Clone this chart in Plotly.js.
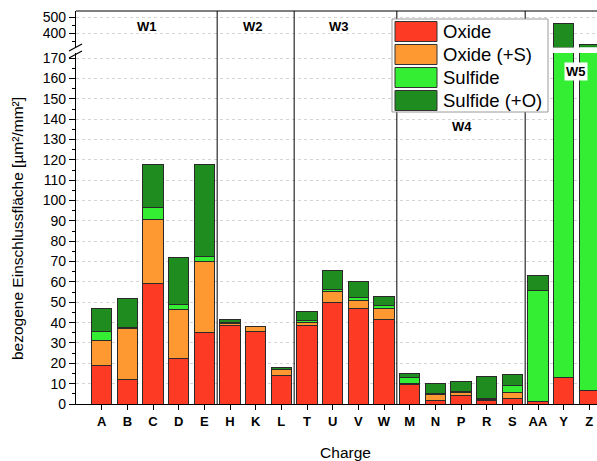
<!DOCTYPE html>
<html>
<head>
<meta charset="utf-8">
<script src="https://cdn.plot.ly/plotly-3.0.1.min.js"></script>
<style>
  html, body { margin: 0; padding: 0; overflow: hidden; background: #fff; }
  #chart { width: 620px; height: 461px; }
</style>
</head>
<body>
<div id="chart"></div>
<script>
// Inclusion area per charge, stacked by inclusion type
const charges = ['A','B','C','D','E','H','K','L','T','U','V','W','M','N','P','R','S','AA','Y','Z'];
const seriesNames = ['Oxide', 'Oxide (+S)', 'Sulfide', 'Sulfide (+O)'];
const oxide      = [18.8, 11.8, 59.1, 22.3, 35.0, 38.5, 35.5, 13.8, 38.8, 49.8, 47.0, 41.3, 9.5, 1.6, 4.1, 1.6, 2.6, 1.0, 12.9, 6.7];
const oxideS     = [12.2, 25.4, 31.6, 24.0, 34.9, 1.0, 2.6, 3.1, 1.2, 5.5, 4.1, 5.7, 0.8, 3.0, 1.6, 0.5, 3.1, 0.0, 0.0, 0.0];
const sulfide    = [4.4, 0.4, 5.9, 2.8, 2.8, 0.5, 0.0, 0.2, 0.9, 1.0, 1.3, 1.2, 2.5, 0.6, 0.5, 0.4, 3.5, 54.8, 300.0, 300.0];
const sulfideO   = [11.6, 14.1, 21.0, 22.8, 44.9, 1.3, 0.2, 0.6, 4.5, 9.2, 8.0, 4.5, 2.1, 5.1, 5.0, 10.8, 5.4, 7.4, 151.1, 26.8];
const seriesColors = ['#fd3a24', '#fe9932', '#33ee33', '#1e8c1e'];

// Groups of charges (works W1..W5)
const groupNames  = ['W1', 'W2', 'W3', 'W4', 'W5'];
const groupBounds = [4.5, 7.5, 11.5, 16.5];

const seriesValues = [oxide, oxideS, sulfide, sulfideO];
const traces = [];
['y', 'y2'].forEach(function (ax) {
  seriesValues.forEach(function (vals, i) {
    traces.push({
      type: 'bar', x: charges, y: vals, name: seriesNames[i],
      xaxis: 'x', yaxis: ax, showlegend: false, width: 0.8,
      marker: { color: seriesColors[i], line: { color: '#2a2a2a', width: 1 } },
      hoverinfo: 'x+y+name'
    });
  });
});

// plot area in pixels (used to place decorations in paper units)
const W = 620, H = 461, mL = 76, mR = 5, mT = 11, mB = 57;
const pw = W - mL - mR, ph = H - mT - mB;
const px = function (x) { return (x - mL) / pw; };
const py = function (y) { return (H - mB - y) / ph; };

const shapes = [];
// group separators over the full height
groupBounds.forEach(function (b) {
  shapes.push({ type: 'line', xref: 'x', yref: 'paper', x0: b, x1: b, y0: 0, y1: 1,
    line: { color: '#000', width: 1 } });
});
// top frame
shapes.push({ type: 'line', xref: 'paper', yref: 'paper', x0: 0, x1: 1, y0: 1, y1: 1,
  line: { color: '#000', width: 1.2 } });
// axis break marks
shapes.push({ type: 'line', xref: 'paper', yref: 'paper', x0: px(69), x1: px(82), y0: py(51), y1: py(44),
  line: { color: '#000', width: 1.2 } });
shapes.push({ type: 'line', xref: 'paper', yref: 'paper', x0: px(69), x1: px(82), y0: py(58), y1: py(51),
  line: { color: '#000', width: 1.2 } });

// legend box with wide colour swatches
const lg = { x0: 392, x1: 548, y0: 19, y1: 112 };
shapes.push({ type: 'rect', xref: 'paper', yref: 'paper', x0: px(lg.x0), x1: px(lg.x1), y0: py(lg.y1), y1: py(lg.y0),
  fillcolor: '#fff', line: { color: '#9a9a9a', width: 1 }, layer: 'above' });
const annotations = [];
seriesNames.forEach(function (n, i) {
  const cy = 31.5 + i * 23;
  shapes.push({ type: 'rect', xref: 'paper', yref: 'paper', x0: px(395), x1: px(437), y0: py(cy + 10), y1: py(cy - 10),
    fillcolor: seriesColors[i], line: { color: '#333', width: 1 }, layer: 'above' });
  annotations.push({ xref: 'paper', yref: 'paper', x: px(441), y: py(cy), text: n, showarrow: false,
    xanchor: 'left', yanchor: 'middle', font: { size: 18.5, color: '#000', family: 'Liberation Sans, Arial, sans-serif' } });
});

// group labels
const groupLabelX = [1.76, 5.91, 9.26, 14.04, 18.48];
const groupLabelY = [26.5, 26.5, 26.5, 127, 71];
groupNames.forEach(function (g, i) {
  annotations.push({ xref: 'x', yref: 'paper', x: groupLabelX[i], y: py(groupLabelY[i]), text: '<b>' + g + '</b>',
    showarrow: false, xanchor: 'center', yanchor: 'middle',
    bgcolor: g === 'W5' ? '#fff' : 'rgba(0,0,0,0)', borderpad: 1,
    font: { size: 13, color: '#000', family: 'Liberation Sans, Arial, sans-serif' } });
});

const layout = {
  width: W, height: H,
  margin: { l: mL, r: mR, t: mT, b: mB },
  paper_bgcolor: '#fff', plot_bgcolor: '#fff',
  barmode: 'stack', bargap: 0.2,
  font: { family: 'Liberation Sans, Arial, sans-serif', color: '#000' },
  xaxis: {
    type: 'category', range: [-1, 20], showline: true, linecolor: '#000', linewidth: 1.2,
    ticks: 'outside', ticklen: 5, tickcolor: '#000', showgrid: false, zeroline: false,
    tickfont: { size: 13, family: 'Liberation Sans, Arial, sans-serif', weight: 'bold' },
    tickprefix: '<b>', ticksuffix: '</b>',
    title: { text: 'Charge', font: { size: 15.5 }, standoff: 23 }
  },
  yaxis: {
    domain: [0, 0.893], range: [0, 172.5], dtick: 10, tick0: 0,
    showline: true, linecolor: '#000', linewidth: 1.2, zeroline: false,
    ticks: 'outside', ticklen: 6, tickcolor: '#000',
    minor: { dtick: 5, ticks: 'outside', ticklen: 3, tickcolor: '#000', showgrid: false },
    showgrid: true, gridcolor: '#d4d4d4', griddash: 'dot', gridwidth: 1,
    tickfont: { size: 14 },
    title: { text: 'bezogene Einschlussfläche [µm²/mm²]', font: { size: 15.5 }, standoff: 15 }
  },
  yaxis2: {
    domain: [0.908, 1], range: [314, 539], anchor: 'x', dtick: 100, tick0: 0,
    showline: true, linecolor: '#000', linewidth: 1.2, zeroline: false,
    ticks: 'outside', ticklen: 6, tickcolor: '#000',
    minor: { dtick: 50, ticks: 'outside', ticklen: 3, tickcolor: '#000', showgrid: false },
    showgrid: true, gridcolor: '#d4d4d4', griddash: 'dot', gridwidth: 1,
    tickfont: { size: 14 }
  },
  shapes: shapes,
  annotations: annotations
};

Plotly.newPlot('chart', traces, layout, { displayModeBar: false, staticPlot: true });
</script>
</body>
</html>
